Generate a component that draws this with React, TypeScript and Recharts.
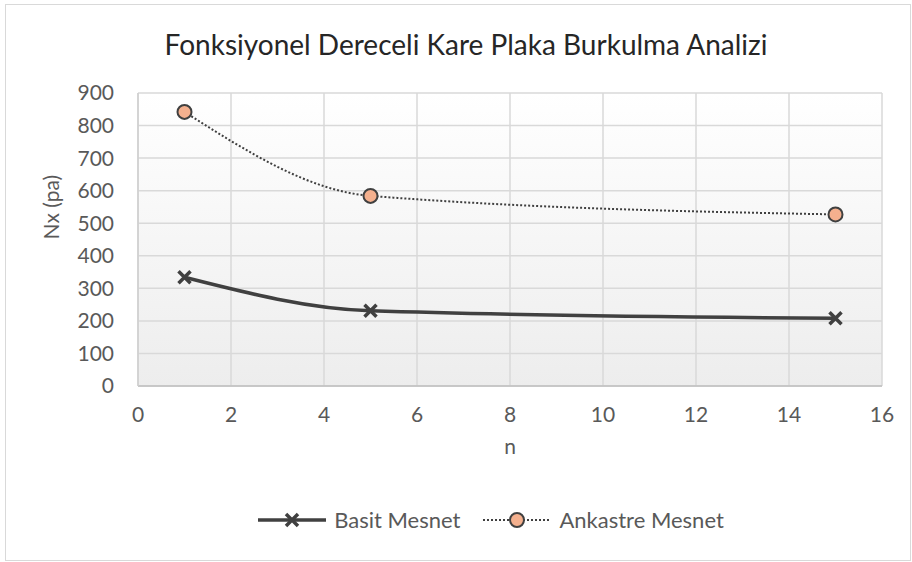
import { CartesianGrid, Line, LineChart, XAxis, YAxis } from "recharts";

const nValues = [1, 5, 15];
const basitValues = [334, 231, 208];
const ankastreValues = [842, 584, 527];
const xTicks = [0, 2, 4, 6, 8, 10, 12, 14, 16];
const yTicks = [0, 100, 200, 300, 400, 500, 600, 700, 800, 900];

const data = nValues.map((n, i) => ({
  n,
  basit: basitValues[i],
  ankastre: ankastreValues[i],
}));

const FONT = "Lato, 'Open Sans', sans-serif";
const TEXT = "#595959";
const LINE = "#404040";
const PEACH = "#f4b08e";

const CrossDot = (props: any) => {
  const { cx, cy } = props;
  if (cx == null || cy == null) return null;
  const s = 6;
  return (
    <path
      key={`x-${cx}`}
      d={`M${cx - s},${cy - s}L${cx + s},${cy + s}M${cx + s},${cy - s}L${cx - s},${cy + s}`}
      stroke={LINE}
      strokeWidth={3.5}
      fill="none"
    />
  );
};

const CircleDot = (props: any) => {
  const { cx, cy } = props;
  if (cx == null || cy == null) return null;
  return <circle key={`c-${cx}`} cx={cx} cy={cy} r={7} fill={PEACH} stroke={LINE} strokeWidth={2} />;
};

function LegendBox() {
  return (
    <div
      style={{
        position: "absolute",
        left: 0,
        top: 506,
        width: 982,
        display: "flex",
        justifyContent: "center",
        alignItems: "center",
        fontFamily: FONT,
        fontSize: 22,
        color: TEXT,
      }}
    >
      <svg width={68} height={20}>
        <line x1={0} y1={10} x2={68} y2={10} stroke={LINE} strokeWidth={3.5} />
        <path d="M28,4L40,16M40,4L28,16" stroke={LINE} strokeWidth={3.5} />
      </svg>
      <span style={{ marginLeft: 8, marginRight: 23 }}>Basit Mesnet</span>
      <svg width={68} height={20}>
        <line x1={0} y1={10} x2={68} y2={10} stroke={LINE} strokeWidth={2} strokeDasharray="2 2" />
        <circle cx={34} cy={10} r={7} fill={PEACH} stroke={LINE} strokeWidth={2} />
      </svg>
      <span style={{ marginLeft: 8 }}>Ankastre Mesnet</span>
    </div>
  );
}

export default function App() {
  return (
    <div style={{ position: "absolute", left: 0, top: 0, width: 912, height: 562, background: "#fff", overflow: "hidden" }}>
      <div
        style={{
          position: "absolute",
          left: 5,
          top: 4,
          width: 904,
          height: 555,
          border: "1px solid #d9d9d9",
        }}
      />
      <div
        style={{
          position: "absolute",
          left: 0,
          top: 27,
          width: 932,
          textAlign: "center",
          fontFamily: FONT,
          fontSize: 28,
          color: "#262626",
        }}
      >
        Fonksiyonel Dereceli Kare Plaka Burkulma Analizi
      </div>
      <div style={{ position: "absolute", left: 0, top: 0 }}>
        <LineChart width={912} height={562} data={data} margin={{ top: 93, right: 30, bottom: 0, left: 0 }}>
          <defs>
            <linearGradient id="plotBg" x1="0" y1="0" x2="0" y2="1">
              <stop offset="0%" stopColor="#ffffff" />
              <stop offset="100%" stopColor="#ededed" />
            </linearGradient>
          </defs>
          <CartesianGrid fill="url(#plotBg)" stroke="#d9d9d9" strokeWidth={1.5} />
          <XAxis
            dataKey="n"
            type="number"
            domain={[0, 16]}
            ticks={xTicks}
            height={176}
            tickSize={0}
            tickMargin={21}
            axisLine={{ stroke: "#bfbfbf", strokeWidth: 1.5 }}
            tick={{ fill: TEXT, fontSize: 21, fontFamily: FONT }}
            label={{ value: "n", position: "insideTop", offset: 53, fill: TEXT, fontSize: 21, fontFamily: FONT }}
          />
          <YAxis
            type="number"
            domain={[0, 900]}
            ticks={yTicks}
            width={138}
            tickSize={0}
            tickMargin={24}
            axisLine={{ stroke: "#cfcfcf", strokeWidth: 1.5 }}
            tick={{ fill: TEXT, fontSize: 21, fontFamily: FONT }}
            label={{ value: "Nx (pa)", angle: -90, position: "insideLeft", offset: 52, fill: TEXT, fontSize: 21, fontFamily: FONT }}
          />
          <Line
            type="monotone"
            dataKey="basit"
            name="Basit Mesnet"
            stroke={LINE}
            strokeWidth={3.5}
            dot={CrossDot}
            activeDot={false}
            isAnimationActive={false}
          />
          <Line
            type="monotone"
            dataKey="ankastre"
            name="Ankastre Mesnet"
            stroke={LINE}
            strokeWidth={2}
            strokeDasharray="2 2"
            dot={CircleDot}
            activeDot={false}
            isAnimationActive={false}
          />
        </LineChart>
      </div>
      <LegendBox />
    </div>
  );
}
